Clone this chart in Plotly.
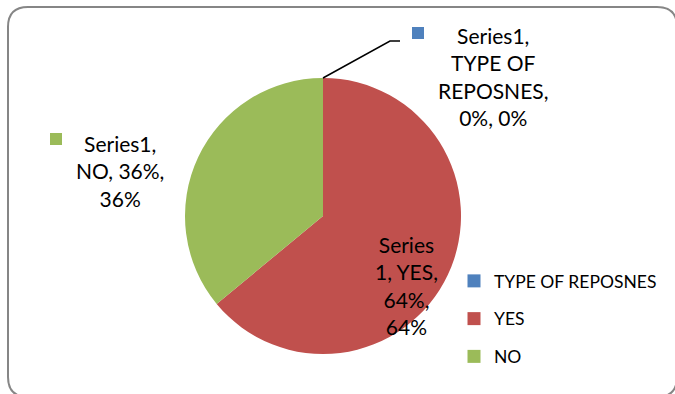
import plotly.graph_objects as go

W, H = 675, 394

# ---- data ----
series_name = "Series1"
categories = ["TYPE OF REPOSNES", "YES", "NO"]
percents = [0, 64, 36]
colors = ["#4F81BD", "#C0504D", "#9BBB59"]

FONT = "Lato"
FS = 21


def px(x):
    return x / W


def py(y):
    return 1 - y / H


cx, cy, r = 323, 216, 138

fig = go.Figure()
fig.add_trace(go.Pie(
    labels=categories,
    values=percents,
    marker=dict(colors=colors, line=dict(width=0)),
    sort=False,
    direction="clockwise",
    rotation=0,
    textinfo="none",
    hoverinfo="label+percent",
    showlegend=False,
    domain=dict(x=[px(cx - r), px(cx + r)], y=[py(cy + r), py(cy - r)]),
))

# legend entries
for i, (cat, col) in enumerate(zip(categories, colors)):
    fig.add_trace(go.Scatter(
        x=[None], y=[None], mode="markers", name=cat,
        marker=dict(symbol="square", size=13, color=col),
        legendgroup=f"g{i}", showlegend=True,
    ))

# data labels
p = dict(zip(categories, percents))
label_specs = [
    (f"{series_name},<br>TYPE OF<br>REPOSNES,<br>{p['TYPE OF REPOSNES']}%, {p['TYPE OF REPOSNES']}%", 493, 76),
    (f"{series_name},<br>NO, {p['NO']}%,<br>{p['NO']}%", 120, 171),
    (f"Series<br>1, YES,<br>{p['YES']}%,<br>{p['YES']}%", 406, 285),
]
annotations = []
for txt, x, y in label_specs:
    annotations.append(dict(
        text=txt, x=px(x), y=py(y), xref="paper", yref="paper",
        xanchor="center", yanchor="middle", showarrow=False, align="center",
        font=dict(family=FONT, size=FS, color="#000000"),
    ))

shapes = []
# label keys
for (x0, y0), col in [((412, 27), colors[0]), ((50, 133), colors[2])]:
    shapes.append(dict(type="rect", xref="paper", yref="paper",
                       x0=px(x0), x1=px(x0 + 12), y0=py(y0), y1=py(y0 + 12),
                       fillcolor=col, line=dict(width=0)))
# leader line
shapes.append(dict(type="path", xref="paper", yref="paper",
                   path=f"M {px(323)} {py(78)} L {px(390)} {py(41)} L {px(400)} {py(41)}",
                   line=dict(color="#000000", width=1.5)))
# chart border (rounded)
x0, x1, y0, y1, rr = 8, 677, 7, 397, 20
path = (f"M {px(x0 + rr)} {py(y0)} L {px(x1 - rr)} {py(y0)} "
        f"Q {px(x1)} {py(y0)} {px(x1)} {py(y0 + rr)} "
        f"L {px(x1)} {py(y1 - rr)} Q {px(x1)} {py(y1)} {px(x1 - rr)} {py(y1)} "
        f"L {px(x0 + rr)} {py(y1)} Q {px(x0)} {py(y1)} {px(x0)} {py(y1 - rr)} "
        f"L {px(x0)} {py(y0 + rr)} Q {px(x0)} {py(y0)} {px(x0 + rr)} {py(y0)} Z")
shapes.append(dict(type="path", xref="paper", yref="paper", path=path,
                   line=dict(color="#868686", width=2)))

fig.update_layout(
    width=W, height=H,
    margin=dict(l=0, r=0, t=0, b=0),
    paper_bgcolor="white", plot_bgcolor="white",
    xaxis=dict(visible=False), yaxis=dict(visible=False),
    showlegend=True,
    legend=dict(
        x=px(454), y=py(263), xanchor="left", yanchor="top",
        traceorder="grouped", tracegroupgap=12,
        font=dict(family=FONT, size=17.5, color="#000000"),
        bgcolor="rgba(0,0,0,0)", itemwidth=30,
    ),
    annotations=annotations,
    shapes=shapes,
)

fig.write_html("out.html")
